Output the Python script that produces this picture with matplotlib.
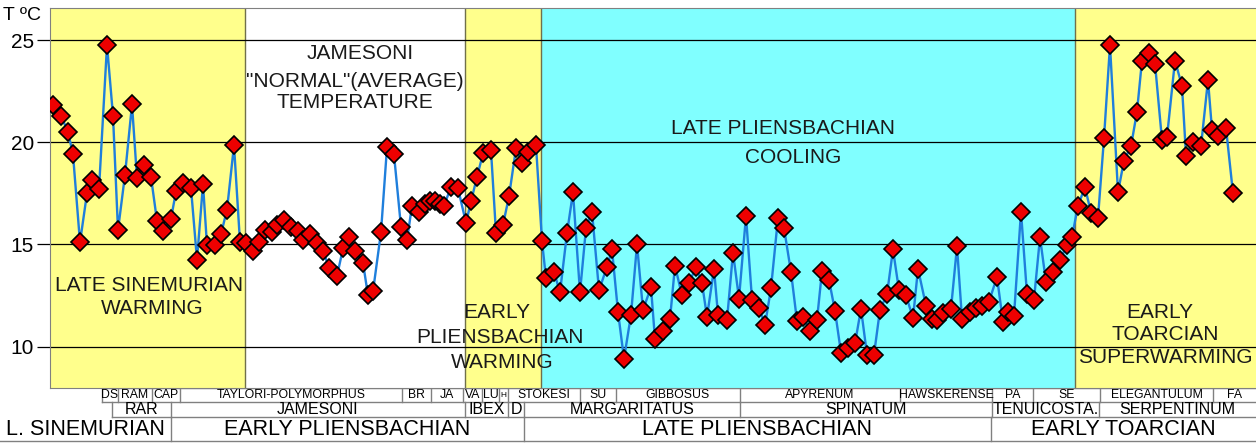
import matplotlib
matplotlib.use('Agg')
import matplotlib.pyplot as plt

plt.rcParams['font.family'] = ['Liberation Sans', 'DejaVu Sans']

# stratigraphic position (arbitrary units) and temperature (ºC)
position = [
    53, 61, 68, 73, 80, 87, 92, 99, 107, 113, 118, 125, 132, 137, 144, 151, 157, 163, 171, 176,
    183, 191, 197, 203, 207, 215, 221, 227, 234, 240, 246, 253, 259, 265, 272, 277, 284, 291, 298, 303,
    310, 317, 323, 329, 337, 343, 349, 355, 363, 368, 373, 381, 387, 394, 401, 407, 412, 419, 425, 430,
    435, 440, 444, 451, 458, 466, 471, 477, 483, 491, 496, 503, 509, 516, 522, 528, 536, 542, 546, 554,
    560, 567, 573, 580, 586, 592, 599, 607, 612, 618, 624, 631, 637, 643, 651, 655, 663, 670, 675, 682,
    689, 696, 702, 707, 714, 718, 727, 733, 739, 746, 752, 759, 765, 771, 778, 784, 791, 797, 803, 810,
    817, 822, 829, 835, 841, 848, 855, 861, 867, 874, 880, 887, 893, 899, 906, 913, 918, 926, 932, 937,
    943, 951, 957, 962, 970, 976, 982, 989, 997, 1003, 1008, 1014, 1021, 1027, 1034, 1040, 1046, 1053, 1060, 1067,
    1072, 1078, 1085, 1091, 1098, 1104, 1110, 1118, 1124, 1131, 1137, 1142, 1149, 1155, 1162, 1167, 1175, 1182, 1186, 1193,
    1201, 1208, 1212, 1218, 1226, 1233,
]
temperature = [
    21.8, 21.3, 20.5, 19.4, 15.1, 17.5, 18.15, 17.7, 24.75, 21.3, 15.7, 18.4, 21.85, 18.25, 18.9, 18.3, 16.15, 15.65, 16.25, 17.6,
    18.0, 17.75, 14.25, 17.95, 14.95, 14.95, 15.5, 16.7, 19.85, 15.1, 15.05, 14.7, 15.1, 15.7, 15.6, 15.95, 16.2, 15.85, 15.65, 15.2,
    15.5, 15.05, 14.7, 13.85, 13.45, 14.8, 15.35, 14.7, 14.1, 12.5, 12.7, 15.6, 19.75, 19.4, 15.85, 15.2, 16.9, 16.6, 17.0, 17.1,
    17.1, 17.0, 16.9, 17.8, 17.75, 16.05, 17.1, 18.3, 19.45, 19.6, 15.55, 15.95, 17.35, 19.7, 19.0, 19.5, 19.85, 15.15, 13.35, 13.65,
    12.65, 15.55, 17.55, 12.65, 15.8, 16.6, 12.75, 13.9, 14.75, 11.7, 9.4, 11.55, 15.0, 11.8, 12.9, 10.35, 10.75, 11.35, 13.95, 12.5,
    13.1, 13.9, 13.1, 11.45, 13.8, 11.55, 11.3, 14.6, 12.35, 16.4, 12.3, 11.9, 11.05, 12.85, 16.3, 15.8, 13.65, 11.25, 11.45, 10.75,
    11.3, 13.7, 13.25, 11.75, 9.7, 9.95, 10.15, 11.85, 9.6, 9.6, 11.8, 12.55, 14.75, 12.75, 12.5, 11.4, 13.8, 12.0, 11.35, 11.3,
    11.65, 11.85, 14.9, 11.35, 11.7, 11.9, 12.0, 12.2, 13.4, 11.2, 11.7, 11.5, 16.6, 12.55, 12.3, 15.35, 13.15, 13.65, 14.25, 14.95,
    15.35, 16.9, 17.8, 16.55, 16.3, 20.2, 24.75, 17.55, 19.1, 19.8, 21.5, 24.0, 24.35, 23.85, 20.1, 20.25, 24.0, 22.75, 19.35, 20.0,
    19.8, 23.05, 20.6, 20.3, 20.7, 17.5,
]

# climate intervals shaded behind the curve
band_edges = [50, 245, 465, 541, 1075, 1256]
band_colors = ['#ffff8c', '#ffffff', '#ffff8c', '#80ffff', '#ffff8c']

# ammonite subzones, zones and stages (name, start, end)
subzones = [
    ('DS', 102, 118), ('RAM', 118, 152), ('CAP', 152, 180), ('TAYLORI-POLYMORPHUS', 180, 402),
    ('BR', 402, 431), ('JA', 431, 463), ('VA', 463, 482), ('LU', 482, 499), ('H', 499, 508),
    ('STOKESI', 508, 580), ('SU', 580, 616), ('GIBBOSUS', 616, 740), ('APYRENUM', 740, 900),
    ('HAWSKERENSE', 900, 992), ('PA', 992, 1033), ('SE', 1033, 1100), ('ELEGANTULUM', 1100, 1213),
    ('FA', 1213, 1256),
]
zones = [
    ('RAR', 112, 171), ('JAMESONI', 171, 465), ('IBEX', 465, 508), ('D', 508, 524),
    ('MARGARITATUS', 524, 740), ('SPINATUM', 740, 992), ('TENUICOSTA.', 992, 1099),
    ('SERPENTINUM', 1099, 1256),
]
stages = [
    ('L. SINEMURIAN', 0, 171), ('EARLY PLIENSBACHIAN', 171, 524),
    ('LATE PLIENSBACHIAN', 524, 991), ('EARLY TOARCIAN', 991, 1256),
]

# labels of the climate intervals (text, x, T)
interval_labels = [
    ('LATE SINEMURIAN', 149, 13.0), ('WARMING', 152, 11.88),
    ('JAMESONI', 360, 24.36), ('"NORMAL"(AVERAGE)', 355, 22.99), ('TEMPERATURE', 355, 21.92),
    ('EARLY', 497, 11.66), ('PLIENSBACHIAN', 500, 10.44), ('WARMING', 502, 9.24),
    ('LATE PLIENSBACHIAN', 783, 20.69), ('COOLING', 793, 19.27),
    ('EARLY', 1160, 11.69), ('TOARCIAN', 1165, 10.61), ('SUPERWARMING', 1165, 9.48),
]

W, H = 1256, 443
fig = plt.figure(figsize=(W / 100, H / 100), dpi=100)
ax = fig.add_axes([50 / W, 1 - 388 / H, 1206 / W, 380 / H])

for i, c in enumerate(band_colors):
    ax.axvspan(band_edges[i], band_edges[i + 1], color=c, zorder=0, lw=0)
for e in band_edges[1:-1]:
    ax.axvline(e, color='#70704a', lw=1, zorder=1)

ax.set_xlim(50, 1256)
ax.set_ylim(7.97, 26.57)
ax.set_yticks([10, 15, 20, 25])
ax.set_xticks([])
ax.grid(axis='y', color='black', lw=0.9, zorder=1)
ax.tick_params(axis='y', length=9.5, width=0.9, pad=2, labelsize=15)
for s in ax.spines.values():
    s.set_color('#808080')
ax.spines['right'].set_visible(False)

ax.plot(position, temperature, color='#1f7fdc', lw=1.7, marker='D', ms=9,
        mfc='#ee0000', mec='black', mew=1.2, zorder=3)

for txt, x, y in interval_labels:
    ax.text(x, y, txt, ha='center', va='center', fontsize=15, color='#1a1a1a', zorder=4)

fig.text(3 / W, 1 - 15 / H, 'T ºC', fontsize=14, ha='left', va='center')

# stratigraphic table under the chart
tab = fig.add_axes([0, 0, 1, 55 / H])
tab.set_xlim(0, W)
tab.set_ylim(443, 388)
tab.axis('off')

rows = [(subzones, 388, 402, 8.8), (zones, 402, 417, 11.5), (stages, 417, 441, 15.5)]
for items, y0, y1, fs in rows:
    left = items[0][1]
    tab.plot([left, W], [y1, y1], color='#808080', lw=1)
    for name, a, b in items:
        if a > 0:
            tab.plot([a, a], [y0, y1], color='#808080', lw=1)
        size = 6 if len(name) == 1 and b - a < 12 else fs
        tab.text((a + b) / 2, (y0 + y1) / 2 + 0.5, name, ha='center', va='center', fontsize=size)
tab.plot([102, W], [388, 388], color='#808080', lw=1)

fig.savefig('out.png', dpi=100)
